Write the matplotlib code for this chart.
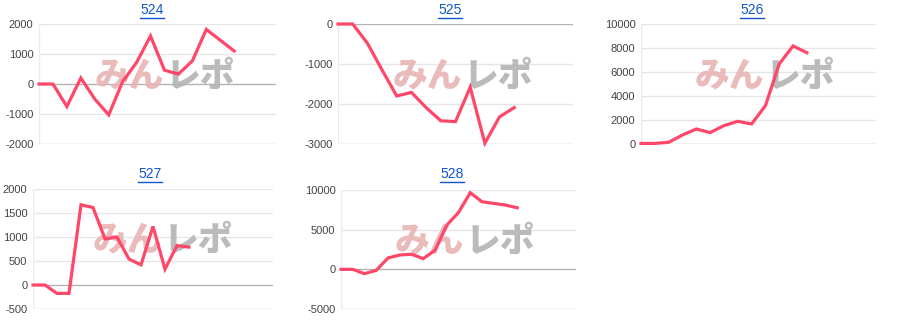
import matplotlib
matplotlib.use("Agg")
import matplotlib.pyplot as plt
from matplotlib.lines import Line2D

plt.rcParams['font.family'] = ['Liberation Sans', 'DejaVu Sans']

titles = ["524", "525", "526", "527", "528"]
series = {
    "524": [0, 0, -750, 200, -500, -1030, 80, 720, 1600, 460, 330, 770, 1820, 1460, 1100],
    "525": [0, 0, -480, -1150, -1800, -1710, -2090, -2420, -2440, -1580, -2980, -2320, -2090],
    "526": [50, 50, 140, 750, 1250, 950, 1530, 1890, 1670, 3190, 6670, 8170, 7610],
    "527": [0, 0, -175, -175, 1670, 1615, 960, 1000, 540, 420, 1220, 330, 820, 790],
    "528": [0, 0, -550, -130, 1430, 1810, 1900, 1350, 2400, 5570, 7170, 9660, 8520, 8310, 8100, 7760],
}
slots = {"524": 17, "525": 16, "526": 17, "527": 20, "528": 20}
yticks = {
    "524": [-2000, -1000, 0, 1000, 2000],
    "525": [-3000, -2000, -1000, 0],
    "526": [0, 2000, 4000, 6000, 8000, 10000],
    "527": [-500, 0, 500, 1000, 1500, 2000],
    "528": [-5000, 0, 5000, 10000],
}

W, H = 900, 330
boxes = {
    "524": (39, 24, 276, 144),
    "525": (338, 24, 573, 144),
    "526": (641, 24, 876, 144),
    "527": (33, 189, 273, 309),
    "528": (341, 190, 576, 309),
}
title_pos = {"524": (152, 10), "525": (450, 10), "526": (752, 10), "527": (150, 174), "528": (452, 174)}
wm_pos = {"524": (95, 76), "525": (393, 76), "526": (695, 76), "527": (93, 240), "528": (395, 241)}

fig = plt.figure(figsize=(W / 100, H / 100), dpi=100)
fig.patch.set_facecolor("white")

title_texts = []
for key in titles:
    l, t, r, b = boxes[key]
    ax = fig.add_axes([l / W, 1 - b / H, (r - l) / W, (b - t) / H])
    vals = series[key]
    ax.plot(range(len(vals)), vals, color="#ff4769", lw=2.3, solid_joinstyle="miter", zorder=3, clip_on=False)
    ax.set_xlim(0, slots[key])
    yt = yticks[key]
    ax.set_ylim(yt[0], yt[-1])
    ax.set_yticks(yt)
    ax.set_yticklabels([str(v) for v in yt])
    ax.set_xticks([])
    for v in yt:
        if v == 0:
            ax.axhline(v, color="#b3b3b3", lw=1, zorder=1)
        elif v == yt[0]:
            ax.axhline(v, color="#cccccc", lw=1, zorder=1)
        else:
            ax.axhline(v, color="#e6e6e6", lw=1, zorder=1)
    for s in ax.spines.values():
        s.set_visible(False)
    ax.axvline(0, color="#ebebeb", lw=1, zorder=1)
    ax.tick_params(axis="y", length=0, pad=4, labelsize=8, labelcolor="#444444")
    wx, wy = wm_pos[key]
    ax.text(wx / W, 1 - wy / H, "みん", transform=fig.transFigure, fontsize=25,
            family=["Noto Sans CJK JP"], weight="heavy", color="#e8b4b4", alpha=0.9,
            ha="left", va="center", zorder=1.5)
    ax.text((wx + 71) / W, 1 - wy / H, "レポ", transform=fig.transFigure, fontsize=25,
            family=["Noto Sans CJK JP"], weight="heavy", color="#b4b4b4", alpha=0.9,
            ha="left", va="center", zorder=1.5)
    tx, ty = title_pos[key]
    tt = fig.text(tx / W, 1 - ty / H, key, fontsize=10, color="#1155cc", ha="center", va="center")
    title_texts.append(tt)

fig.canvas.draw()
renderer = fig.canvas.get_renderer()
for tt in title_texts:
    bb = tt.get_window_extent(renderer)
    y = bb.y0 - 1
    fig.add_artist(Line2D([bb.x0 / W, bb.x1 / W], [y / H, y / H], transform=fig.transFigure,
                          color="#1155cc", lw=1))

fig.savefig("out.png", dpi=100, facecolor="white")
